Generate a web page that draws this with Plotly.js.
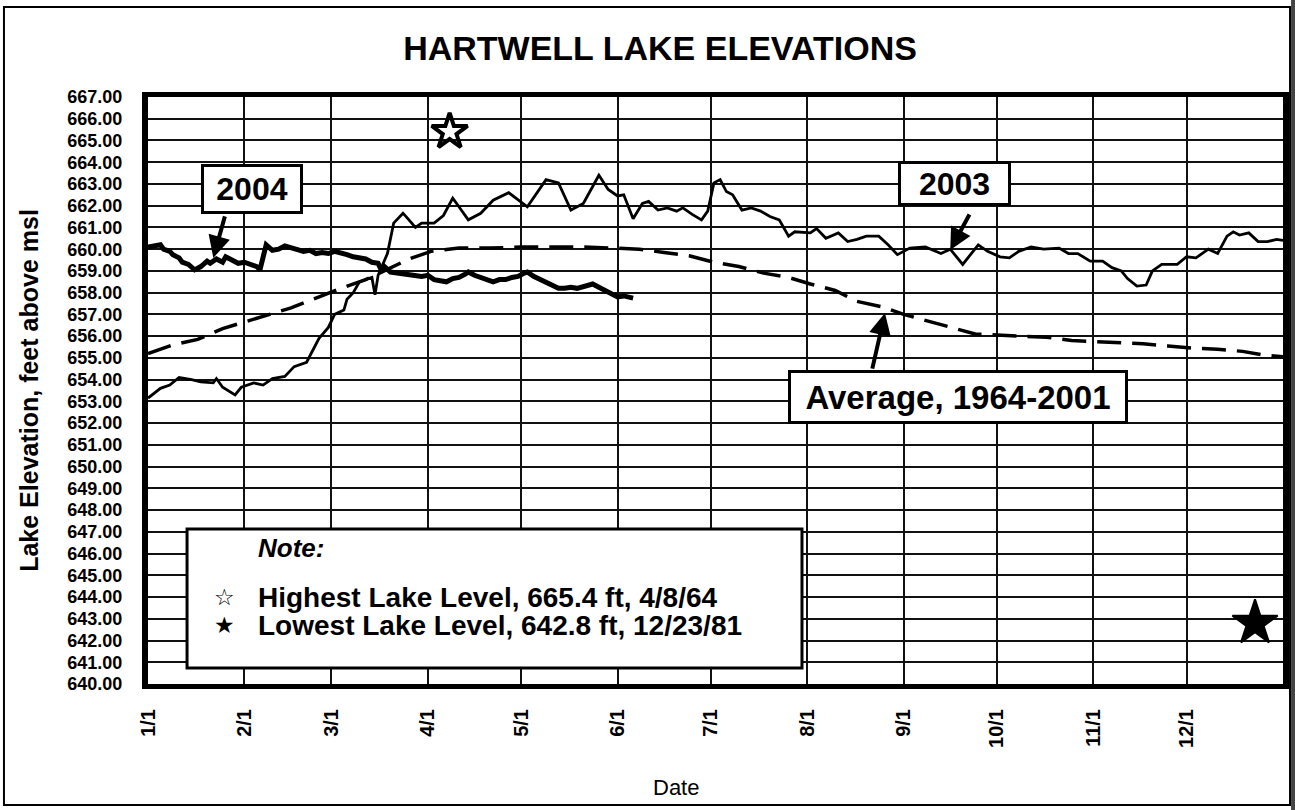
<!DOCTYPE html>
<html>
<head>
<meta charset="utf-8">
<script src="https://cdn.plot.ly/plotly-3.0.1.min.js"></script>
<style>
  html, body { margin: 0; padding: 0; background: #ffffff; }
  #chart { width: 1295px; height: 810px; }
</style>
</head>
<body>
<div id="chart"></div>
<script>
// ---------- DATA ----------
const monthTickDays   = [0, 31, 59, 90, 120, 151, 181, 212, 243, 273, 304, 334];
const monthTickLabels = ['1/1', '2/1', '3/1', '4/1', '5/1', '6/1', '7/1', '8/1', '9/1', '10/1', '11/1', '12/1'];

// 2003 lake elevation (day of year, feet above msl)
const days2003 = [0,4,7,10,14,17,21,22,24,28,
  30,34,37,40,44,47,51,53,55,58,
  60,63,64,66,68,72,73,74,77,79,
  82,83,86,88,92,95,98,100,103,107,
  111,116,122,128,132,136,140,145,148,151,
  153,156,159,161,164,167,170,172,175,178,
  180,182,184,186,188,191,194,197,200,203,
  206,208,213,215,218,222,225,228,231,235,
  238,241,245,250,255,258,262,267,270,274,
  277,280,284,288,293,296,299,303,307,310,
  313,315,318,321,323,326,331,334,337,341,
  344,347,349,351,354,357,360,363,365];
const level2003 = [653.15,653.6,653.75,654.1,654.0,653.9,653.85,654.05,653.65,653.3,
  653.65,653.85,653.75,654.05,654.15,654.6,654.8,655.35,655.9,656.4,
  657.0,657.2,657.7,658.0,658.5,658.7,657.9,658.8,659.8,661.2,
  661.65,661.5,661.0,661.2,661.2,661.55,662.35,661.95,661.35,661.65,
  662.25,662.6,661.95,663.2,663.05,661.8,662.1,663.4,662.75,662.45,
  662.5,661.4,662.1,662.2,661.8,661.9,661.75,661.9,661.6,661.35,
  661.75,663.05,663.2,662.65,662.5,661.8,661.9,661.75,661.5,661.35,
  660.6,660.8,660.75,660.95,660.5,660.75,660.35,660.45,660.6,660.6,
  660.2,659.75,660.05,660.1,659.8,660.0,659.3,660.2,659.9,659.65,
  659.6,659.9,660.1,660.0,660.05,659.8,659.8,659.45,659.45,659.15,
  659.0,658.65,658.3,658.35,659.0,659.3,659.3,659.65,659.6,660.0,
  659.8,660.6,660.8,660.65,660.75,660.35,660.35,660.45,660.4];

// 2004 lake elevation (to early June)
const days2004 = [0,2,4,5,7,8,10,11,13,15,
  17,19,20,22,24,25,27,29,31,33,
  35,36,37,38,40,42,44,46,48,50,
  52,54,56,58,60,62,64,66,68,70,
  72,74,75,76,78,80,82,84,86,88,
  90,92,94,96,98,100,102,103,105,107,
  109,111,113,115,117,119,121,122,124,126,
  128,130,132,134,136,138,140,142,143,145,
  147,149,151,153,155,156];
const level2004 = [660.1,660.15,660.2,660.0,659.9,659.75,659.6,659.4,659.3,659.05,
  659.2,659.45,659.35,659.55,659.4,659.65,659.5,659.35,659.4,659.3,
  659.2,659.05,659.6,660.2,659.95,660.0,660.15,660.05,659.95,659.9,
  659.95,659.8,659.85,659.8,659.9,659.85,659.75,659.65,659.6,659.55,
  659.4,659.35,659.05,659.2,658.95,658.9,658.9,658.85,658.8,658.75,
  658.8,658.6,658.55,658.5,658.65,658.7,658.85,658.95,658.8,658.7,
  658.55,658.5,658.6,658.6,658.7,658.75,658.9,658.95,658.75,658.6,
  658.5,658.35,658.2,658.2,658.25,658.2,658.3,658.35,658.4,658.25,
  658.1,658.0,657.8,657.85,657.75,657.75];

// Average 1964-2001
const daysAvg = [0,8,16,24,31,39,46,54,62,70,
  78,84,91,100,110,120,130,140,150,158,
  166,174,182,190,198,206,213,221,228,236,
  243,251,258,266,273,281,289,297,304,312,
  320,328,336,344,352,358,365];
const levelAvg = [655.2,655.6,655.85,656.35,656.65,657.0,657.3,657.75,658.2,658.6,
  659.15,659.55,659.9,660.05,660.05,660.1,660.1,660.1,660.05,660.0,
  659.85,659.7,659.4,659.2,658.9,658.7,658.4,658.1,657.6,657.35,
  657.0,656.7,656.4,656.1,656.05,656.0,655.95,655.8,655.75,655.7,
  655.65,655.55,655.45,655.4,655.3,655.15,655.05];

// Record levels (day of year placed on the chart, level)
const recordNames  = ['Highest Lake Level, 665.4 ft, 4/8/64', 'Lowest Lake Level, 642.8 ft, 12/23/81'];
const recordDays   = [97, 356];
const recordLevels = [665.4, 642.8];

// ---------- CHART ----------
const FONT = '"Liberation Sans", Arial, Helvetica, sans-serif';

const traces = [
  { x: daysAvg, y: levelAvg, type: 'scatter', mode: 'lines', name: 'Average, 1964-2001',
    line: { color: '#000', width: 3.5, dash: '24px,11px' } },
  { x: days2003, y: level2003, type: 'scatter', mode: 'lines', name: '2003',
    line: { color: '#000', width: 2.8 } },
  { x: days2004, y: level2004, type: 'scatter', mode: 'lines', name: '2004',
    line: { color: '#000', width: 5 } },
  { x: [recordDays[0]], y: [recordLevels[0]], type: 'scatter', mode: 'markers', name: recordNames[0],
    hoverinfo: 'name',
    marker: { symbol: 'star-open', size: 27, color: '#000', opacity: 1, line: { color: '#000', width: 4 } } },
  { x: [recordDays[1]], y: [recordLevels[1]], type: 'scatter', mode: 'markers', name: recordNames[1],
    hoverinfo: 'name',
    marker: { symbol: 'star', size: 34, color: '#000', opacity: 1, line: { color: '#000', width: 2 } } }
];

const boxStyle = { bgcolor: '#fff', bordercolor: '#000', borderwidth: 3, borderpad: 2, showarrow: false,
                   xref: 'paper', yref: 'paper', xanchor: 'center', yanchor: 'middle' };
const arrowStyle = { text: '', showarrow: true, arrowhead: 2, arrowsize: 1.1, arrowwidth: 4,
                     arrowcolor: '#000', xref: 'x', yref: 'y', axref: 'pixel', ayref: 'pixel', standoff: 0 };

const annotations = [
  Object.assign({}, boxStyle, { text: '2004', x: 0.0916, y: 0.844, width: 92, height: 40,
    font: { size: 32, weight: 'bold', family: FONT, color: '#000' } }),
  Object.assign({}, boxStyle, { text: '2003', x: 0.7106, y: 0.8518, width: 103, height: 35,
    font: { size: 32, weight: 'bold', family: FONT, color: '#000' } }),
  Object.assign({}, boxStyle, { text: 'Average, 1964-2001', x: 0.7137, y: 0.4889, width: 330, height: 44,
    font: { size: 33, weight: 'bold', family: FONT, color: '#000' } }),
  Object.assign({}, arrowStyle, { x: 21, y: 659.6, ax: 12, ay: -43 }),
  Object.assign({}, arrowStyle, { x: 258, y: 659.96, ax: 20, ay: -37 }),
  Object.assign({}, arrowStyle, { x: 237, y: 657.06, ax: -13, ay: 57 }),
  { text: 'Note:', xref: 'paper', yref: 'paper', x: 0.0952, y: 0.2317, xanchor: 'left', yanchor: 'middle',
    showarrow: false, font: { size: 26, weight: 'bold', style: 'italic', family: FONT, color: '#000' } },
  { text: recordNames[0], xref: 'paper', yref: 'paper', x: 0.0952, y: 0.1482, xanchor: 'left', yanchor: 'middle',
    showarrow: false, font: { size: 28, weight: 'bold', family: FONT, color: '#000' } },
  { text: recordNames[1], xref: 'paper', yref: 'paper', x: 0.0952, y: 0.1005, xanchor: 'left', yanchor: 'middle',
    showarrow: false, font: { size: 28, weight: 'bold', family: FONT, color: '#000' } },
  { text: '\u2606', xref: 'paper', yref: 'paper', x: 0.0678, y: 0.1482, xanchor: 'center', yanchor: 'middle',
    showarrow: false, font: { size: 23, weight: 'bold', family: '"DejaVu Sans", sans-serif', color: '#000' } },
  { text: '\u2605', xref: 'paper', yref: 'paper', x: 0.0678, y: 0.1005, xanchor: 'center', yanchor: 'middle',
    showarrow: false, font: { size: 23, family: '"DejaVu Sans", sans-serif', color: '#000' } },
  { text: 'Date', xref: 'paper', yref: 'paper', x: 0.4652, y: -0.177, xanchor: 'center', yanchor: 'middle',
    showarrow: false, font: { size: 22, family: FONT, color: '#000' } }
];

const shapes = [
  { type: 'rect', xref: 'paper', yref: 'paper', x0: 0.0344, x1: 0.5762, y0: 0.0273, y1: 0.264,
    fillcolor: '#fff', line: { color: '#000', width: 3 }, layer: 'above' },
  { type: 'rect', xref: 'paper', yref: 'paper', x0: -0.1269, x1: 1.0062, y0: -0.2061, y1: 1.1533,
    fillcolor: 'rgba(0,0,0,0)', line: { color: '#000', width: 2 }, layer: 'above' },
  { type: 'rect', xref: 'paper', yref: 'paper', x0: 1.0071, x1: 1.0115, y0: -0.25, y1: 1.2,
    fillcolor: '#444', line: { width: 0 }, layer: 'above' }
];

const layout = {
  width: 1295, height: 810,
  margin: { l: 148, r: 12, t: 97, b: 126 },
  paper_bgcolor: '#fff', plot_bgcolor: '#fff',
  showlegend: false,
  font: { family: FONT, color: '#000' },
  title: { text: 'HARTWELL LAKE ELEVATIONS', font: { size: 34, weight: 'bold', family: FONT, color: '#000' },
           x: 0.5097, xref: 'container', xanchor: 'center', y: 0.9407, yref: 'container', yanchor: 'middle' },
  xaxis: { range: [0, 365], tickmode: 'array', tickvals: monthTickDays, ticktext: monthTickLabels,
           tickangle: -90, tickfont: { size: 20, weight: 'bold', family: FONT, color: '#000' },
           showgrid: true, gridcolor: '#111', gridwidth: 1.6, showline: true, linecolor: '#000',
           linewidth: 5, mirror: true, zeroline: false, ticks: '', ticklabelstandoff: 12, fixedrange: true },
  yaxis: { range: [640, 667], tick0: 640, dtick: 1, tickformat: '.2f',
           tickfont: { size: 18, weight: 'bold', family: FONT, color: '#000' },
           showgrid: true, gridcolor: '#111', gridwidth: 1.6, showline: true, linecolor: '#000',
           linewidth: 6, mirror: true, zeroline: false, ticks: '', ticklabelstandoff: 16, fixedrange: true,
           title: { text: 'Lake Elevation, feet above msl', standoff: 24,
                    font: { size: 25, weight: 'bold', family: FONT, color: '#000' } } },
  shapes: shapes,
  annotations: annotations
};

Plotly.newPlot('chart', traces, layout, { displayModeBar: false, responsive: false });
</script>
</body>
</html>
